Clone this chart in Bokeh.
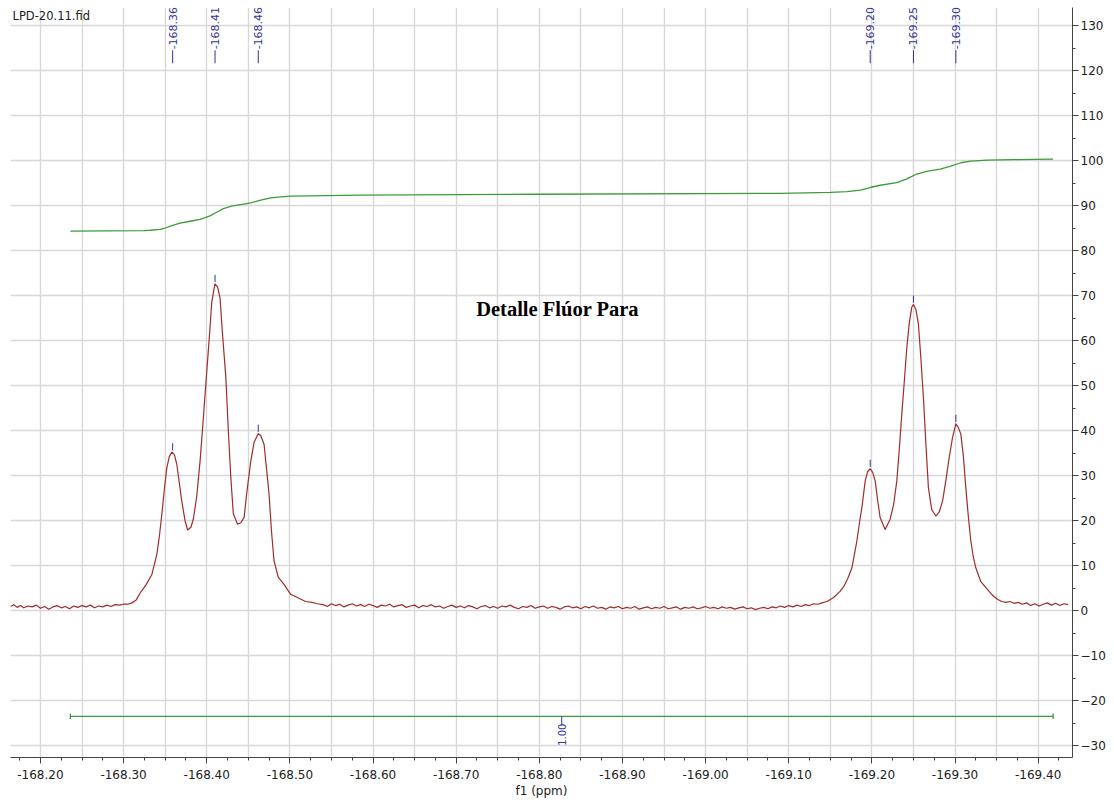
import math
from bokeh.plotting import figure
from bokeh.models import Range1d, FixedTicker, PrintfTickFormatter, Label, ColumnDataSource
from bokeh.core.properties import value
from bokeh.embed import file_html
from bokeh.resources import INLINE

# ---------------- data ----------------
file_name = "LPD-20.11.fid"
annotation = "Detalle Flúor Para"
annotation_ppm = -168.822
annotation_y = 67.0

spec_ppm = [
    -168.164, -168.168, -168.172, -168.176, -168.180, -168.185, -168.190, -168.195, -168.200, -168.205,
    -168.210, -168.215, -168.220, -168.225, -168.230, -168.235, -168.240, -168.245, -168.250, -168.255,
    -168.260, -168.265, -168.270, -168.275, -168.280, -168.285, -168.290, -168.295, -168.300, -168.305,
    -168.310, -168.315, -168.320,
    -168.327, -168.334, -168.340, -168.343, -168.346, -168.349, -168.352, -168.355, -168.358, -168.361,
    -168.364, -168.367, -168.370, -168.374, -168.377, -168.381, -168.384, -168.388, -168.392, -168.395,
    -168.398, -168.401, -168.404, -168.406, -168.409, -168.410, -168.413, -168.416, -168.419, -168.423,
    -168.426, -168.429, -168.432, -168.437, -168.441, -168.445, -168.448, -168.453, -168.457, -168.462,
    -168.465, -168.469, -168.472, -168.475, -168.478, -168.481, -168.486, -168.493, -168.501, -168.509,
    -168.519, -168.527, -168.533,
    -168.540, -168.545, -168.550, -168.555, -168.560, -168.565, -168.570, -168.575, -168.580, -168.585,
    -168.590, -168.595, -168.600, -168.605, -168.610, -168.615, -168.620, -168.625, -168.630, -168.635,
    -168.640, -168.645, -168.650, -168.655, -168.660, -168.665, -168.670, -168.675, -168.680, -168.685,
    -168.690, -168.695, -168.700, -168.705, -168.710, -168.715, -168.720, -168.725, -168.730, -168.735,
    -168.740, -168.745, -168.750, -168.755, -168.760, -168.765, -168.770, -168.775, -168.780, -168.785,
    -168.790, -168.795, -168.800, -168.805, -168.810, -168.815, -168.820, -168.825, -168.830, -168.835,
    -168.840, -168.845, -168.850, -168.855, -168.860, -168.865, -168.870, -168.875, -168.880, -168.885,
    -168.890, -168.895, -168.900, -168.905, -168.910, -168.915, -168.920, -168.925, -168.930, -168.935,
    -168.940, -168.945, -168.950, -168.955, -168.960, -168.965, -168.970, -168.975, -168.980, -168.985,
    -168.990, -168.995, -169.000, -169.005, -169.010, -169.015, -169.020, -169.025, -169.030, -169.035,
    -169.040, -169.045, -169.050, -169.055, -169.060, -169.065, -169.070, -169.075, -169.080, -169.085,
    -169.090, -169.095, -169.100, -169.105, -169.110, -169.115, -169.120, -169.125, -169.130, -169.135,
    -169.140, -169.146, -169.154, -169.162, -169.166, -169.171, -169.176, -169.182, -169.185, -169.188,
    -169.192, -169.195, -169.198, -169.201, -169.204, -169.207, -169.210, -169.216, -169.222, -169.226,
    -169.230, -169.233, -169.236, -169.239, -169.242, -169.245, -169.248, -169.250, -169.253, -169.256,
    -169.259, -169.262, -169.265, -169.268, -169.272, -169.277, -169.281, -169.285, -169.289, -169.293,
    -169.297, -169.301, -169.304, -169.307, -169.310, -169.313, -169.316, -169.319, -169.322, -169.325,
    -169.331, -169.339, -169.345, -169.351, -169.356, -169.361,
    -169.366, -169.371, -169.376, -169.381, -169.386, -169.391, -169.396, -169.401, -169.406, -169.411,
    -169.416, -169.421, -169.426, -169.431, -169.436,
]
spec_int = [
    1.0, 1.4, 0.8, 1.2, 0.7, 1.1, 0.9, 1.3, 0.6, 1.0,
    0.4, 0.9, 1.2, 0.7, 1.0, 0.5, 1.1, 0.8, 1.2, 0.9,
    1.3, 0.7, 1.1, 0.9, 1.3, 1.0, 1.4, 1.3, 1.5, 1.5,
    1.8, 2.4, 4.0,
    5.8, 8.1, 12.6, 16.5, 21.5, 27.0, 31.8, 34.3, 35.3, 34.8,
    32.6, 28.5, 24.4, 20.0, 18.0, 18.6, 20.5, 25.5, 33.3, 40.5,
    48.1, 55.5, 63.0, 68.5, 71.8, 72.7, 72.0, 69.6, 61.5, 51.9,
    40.0, 29.6, 21.6, 19.3, 19.6, 20.8, 26.0, 33.3, 37.5, 39.4,
    39.0, 37.0, 31.5, 25.9, 17.5, 11.1, 7.5, 5.9, 3.7, 3.0,
    2.1, 1.9, 1.6,
    1.4, 1.0, 1.6, 1.2, 1.5, 0.9, 1.3, 1.6, 1.1, 1.4,
    1.0, 1.5, 1.2, 0.8, 1.3, 1.1, 1.5, 0.9, 1.2, 1.4,
    0.8, 1.1, 1.3, 0.7, 1.2, 1.0, 1.4, 0.9, 1.1, 0.6,
    1.0, 1.3, 0.8, 1.1, 0.7, 1.2, 0.9, 0.5, 1.0, 1.2,
    0.7, 1.0, 0.6, 1.1, 0.9, 1.3, 0.8, 0.5, 1.0, 0.8,
    1.2, 0.6, 0.9, 1.1, 0.6, 1.0, 0.8, 0.4, 0.9, 1.1,
    0.7, 0.9, 0.5, 1.0, 0.7, 1.1, 0.6, 0.8, 0.4, 0.9,
    0.7, 1.0, 0.5, 0.8, 0.6, 1.0, 0.4, 0.7, 0.9, 0.5,
    0.8, 0.6, 1.0, 0.5, 0.7, 0.9, 0.4, 0.8, 0.6, 0.9,
    0.5, 0.7, 1.0, 0.6, 0.8, 0.5, 0.9, 0.6, 0.8, 0.4,
    0.7, 0.9, 0.5, 0.7, 0.3, 0.6, 0.8, 0.5, 0.9, 0.7,
    1.1, 0.8, 1.2, 0.9, 1.3, 1.0, 1.4, 1.2, 1.6, 1.5,
    1.8, 2.1, 3.0, 4.4, 5.4, 7.2, 9.6, 15.6, 19.5, 23.0,
    28.9, 31.0, 31.6, 30.8, 28.9, 24.5, 20.7, 18.1, 20.4, 23.5,
    28.9, 36.0, 43.7, 51.0, 58.5, 64.0, 67.5, 68.1, 67.0, 63.7,
    56.0, 47.4, 37.0, 27.4, 22.5, 21.1, 22.0, 24.4, 29.0, 34.1,
    38.5, 41.6, 40.8, 39.3, 34.5, 27.4, 21.0, 15.6, 12.0, 9.6,
    6.5, 4.8, 3.5, 2.6, 2.1, 1.9,
    2.1, 1.7, 1.9, 1.5, 1.8, 1.2, 1.6, 1.1, 1.5, 1.8,
    1.3, 1.7, 1.2, 1.6, 1.4,
]

integral_ppm = [-168.236, -168.324, -168.332, -168.344, -168.350, -168.359, -168.368, -168.380,
                -168.392, -168.404, -168.412, -168.420, -168.431, -168.441, -168.453, -168.465,
                -168.477, -168.489, -168.501, -168.585, -168.800, -169.090, -169.150, -169.170,
                -169.186, -169.198, -169.210, -169.230, -169.242, -169.254, -169.266, -169.282,
                -169.294, -169.307, -169.319, -169.339, -169.370, -169.418]
integral_val = [84.4, 84.5, 84.6, 84.8, 85.1, 85.7, 86.2, 86.6,
                87.0, 87.8, 88.6, 89.4, 90.0, 90.3, 90.7, 91.3,
                91.8, 92.0, 92.2, 92.4, 92.6, 92.8, 93.0, 93.2,
                93.5, 94.1, 94.6, 95.2, 96.0, 97.1, 97.7, 98.2,
                98.8, 99.6, 99.95, 100.2, 100.3, 100.4]

peak_ppm = [-168.359, -168.410, -168.462, -169.198, -169.250, -169.301]
peak_height = [35.3, 72.7, 39.4, 31.6, 68.1, 41.6]
peak_labels = ["-168.36", "-168.41", "-168.46", "-169.20", "-169.25", "-169.30"]

integral_start = -168.236
integral_end = -169.418
integral_level = -23.4
integral_text = "1.00"

x_tick_values = [-168.2, -168.3, -168.4, -168.5, -168.6, -168.7, -168.8,
                 -168.9, -169.0, -169.1, -169.2, -169.3, -169.4]
y_tick_values = [-30, -20, -10, 0, 10, 20, 30, 40, 50, 60, 70, 80, 90, 100, 110, 120, 130]

# ---------------- styling / layout constants ----------------
X_LEFT, X_RIGHT = -168.164, -169.4413
Y_BOTTOM, Y_TOP = -32.56, 134.1
SPEC_COLOR = "#a02c2c"
INT_COLOR = "#3c9c3c"
LABEL_COLOR = "#34349a"
GRID_COLOR = "#d8d8d8"
FONT = "DejaVu Sans"
LABEL_LINE_LOW, LABEL_LINE_HIGH = 121.7, 124.6

p = figure(frame_width=1062, frame_height=750,
           x_range=Range1d(X_LEFT, X_RIGHT), y_range=Range1d(Y_BOTTOM, Y_TOP),
           y_axis_location="right", output_backend="svg", toolbar_location=None,
           min_border_left=10, min_border_top=7, min_border_right=4, min_border_bottom=0)
p.outline_line_color = None
p.background_fill_color = "white"
p.border_fill_color = "white"

# ticks
x_minor = [-168.175 - 0.025 * i for i in range(51)]
p.xaxis.ticker = FixedTicker(ticks=x_tick_values, minor_ticks=x_minor)
p.xaxis.formatter = PrintfTickFormatter(format="%.2f")
y_minor = [-25 + 10 * i for i in range(16)]
p.yaxis.ticker = FixedTicker(ticks=y_tick_values, minor_ticks=y_minor)

p.xgrid.ticker = FixedTicker(ticks=[-168.20 - 0.05 * i for i in range(26)])
p.ygrid.ticker = FixedTicker(ticks=y_tick_values)
for g in (p.xgrid, p.ygrid):
    g.grid_line_color = GRID_COLOR
    g.grid_line_width = 1.4

for ax in (p.xaxis, p.yaxis):
    ax.axis_line_color = "#444444"
    ax.major_tick_line_color = "#444444"
    ax.minor_tick_line_color = "#444444"
    ax.major_tick_in = 0
    ax.minor_tick_in = 0
    ax.major_tick_out = 6
    ax.minor_tick_out = 3
    ax.major_label_text_font = FONT
    ax.major_label_text_font_size = "12px"
    ax.major_label_text_color = "#222222"
p.xaxis.major_label_standoff = 6
p.yaxis.major_label_standoff = 2
p.xaxis.axis_label = "f1 (ppm)"
p.xaxis.axis_label_text_font = FONT
p.xaxis.axis_label_text_font_size = "12px"
p.xaxis.axis_label_text_font_style = "normal"
p.xaxis.axis_label_text_color = "#222222"
p.xaxis.axis_label_standoff = 2

# spectrum and integral
p.line(spec_ppm, spec_int, line_color=SPEC_COLOR, line_width=1.2, line_join="round")
p.line(integral_ppm, integral_val, line_color=INT_COLOR, line_width=1.3, line_join="round")

# integral bar with end caps
p.segment(x0=[integral_start], y0=[integral_level], x1=[integral_end], y1=[integral_level],
          line_color=INT_COLOR, line_width=1.3)
p.segment(x0=[integral_start, integral_end], y0=[integral_level - 0.6] * 2,
          x1=[integral_start, integral_end], y1=[integral_level + 0.6] * 2,
          line_color=INT_COLOR, line_width=1.3)
mid = (integral_start + integral_end) / 2
p.segment(x0=[mid], y0=[integral_level], x1=[mid], y1=[integral_level - 2.1],
          line_color=LABEL_COLOR, line_width=1)
p.text(x=[mid], y=[Y_BOTTOM + 2.6], text=[integral_text], angle=math.pi / 2,
       text_align="left", text_baseline="middle", text_color=LABEL_COLOR,
       text_font=value(FONT), text_font_size="10px")

# peak markers and labels
p.segment(x0=peak_ppm, y0=[h + 0.4 for h in peak_height], x1=peak_ppm,
          y1=[h + 2.0 for h in peak_height], line_color=LABEL_COLOR, line_width=1)
p.segment(x0=peak_ppm, y0=[LABEL_LINE_LOW] * len(peak_ppm), x1=peak_ppm,
          y1=[LABEL_LINE_HIGH] * len(peak_ppm), line_color=LABEL_COLOR, line_width=1)
src = ColumnDataSource(dict(x=peak_ppm, y=[LABEL_LINE_HIGH + 0.2] * len(peak_ppm), t=peak_labels))
p.text(x="x", y="y", text="t", source=src, angle=math.pi / 2, text_align="left",
       text_baseline="middle", text_color=LABEL_COLOR, text_font=value(FONT),
       text_font_size="11px")

# annotation text
p.text(x=[annotation_ppm], y=[annotation_y], text=[annotation], text_align="center",
       text_baseline="middle", text_font=value("Liberation Serif"), text_font_style="bold",
       text_font_size="20.5px", text_color="black")

# file name, top-left
p.add_layout(Label(x=2, y=735, x_units="screen", y_units="screen", text=file_name,
                   text_font=FONT, text_font_size="11.5px", text_color="#222222",
                   text_baseline="bottom"))

open("out.html", "w").write(file_html(p, INLINE))
